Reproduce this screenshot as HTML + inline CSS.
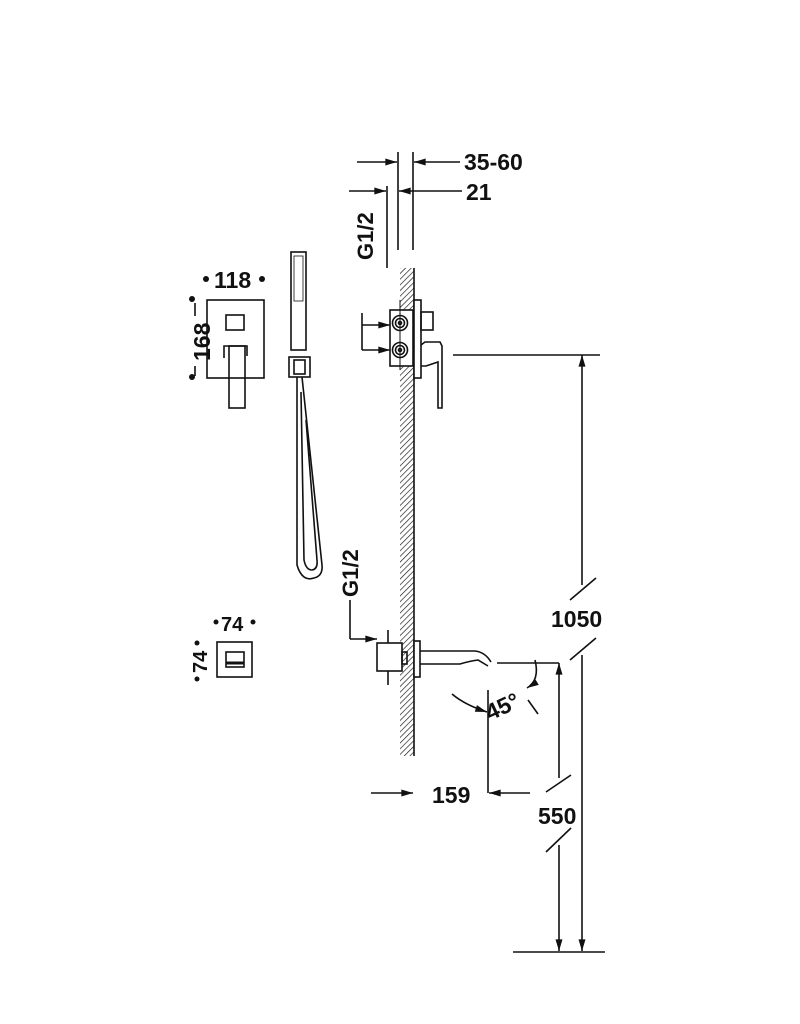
<!DOCTYPE html>
<html><head><meta charset="utf-8"><style>
html,body{margin:0;padding:0;background:#fff;width:800px;height:1024px;overflow:hidden}
svg text{font-family:"Liberation Sans",sans-serif;font-weight:bold;fill:#111}
</style></head><body>
<svg width="800" height="1024" viewBox="0 0 800 1024" xmlns="http://www.w3.org/2000/svg">
<defs>
<pattern id="h" width="4" height="4" patternUnits="userSpaceOnUse" patternTransform="rotate(45)">
<line x1="0" y1="0" x2="0" y2="4" stroke="#111" stroke-width="1.3"/>
</pattern>
<marker id="a" viewBox="0 0 10 6" refX="10" refY="3" markerWidth="16" markerHeight="7" markerUnits="userSpaceOnUse" orient="auto"><path d="M0,0L10,3L0,6z" fill="#111"/></marker>
</defs>
<g stroke="#111" stroke-width="1.6" fill="none">
<rect x="400" y="268" width="14" height="488" fill="url(#h)" stroke="none"/>
<line x1="414" y1="268" x2="414" y2="756"/>
<line x1="398" y1="152" x2="398" y2="250"/>
<line x1="413" y1="152" x2="413" y2="250"/>
<line x1="387" y1="186" x2="387" y2="268"/>
<line x1="357" y1="162" x2="397" y2="162" marker-end="url(#a)"/>
<line x1="460" y1="162" x2="414" y2="162" marker-end="url(#a)"/>
<line x1="349" y1="191" x2="386" y2="191" marker-end="url(#a)"/>
<line x1="462" y1="191" x2="399" y2="191" marker-end="url(#a)"/>
<line x1="362" y1="313" x2="362" y2="350"/>
<line x1="362" y1="325" x2="390" y2="325" marker-end="url(#a)"/>
<line x1="362" y1="350" x2="390" y2="350" marker-end="url(#a)"/>
<rect x="390" y="310" width="23" height="56" fill="#fff"/>
<circle cx="400" cy="323" r="7.5"/><circle cx="400" cy="323" r="4.5"/><circle cx="400" cy="323" r="1.5"/>
<circle cx="400" cy="350" r="7.5"/><circle cx="400" cy="350" r="4.5"/><circle cx="400" cy="350" r="1.5"/>
<line x1="400" y1="300" x2="400" y2="370" stroke-width="1"/>
<rect x="414" y="300" width="7" height="78" fill="#fff"/>
<rect x="421" y="312" width="12" height="18"/>
<path d="M421,345 L425,342 L440,342 L442,346 L442,408 L438,408 L438,362 L426,366 L421,366"/>
<line x1="453" y1="355" x2="600" y2="355"/>
<line x1="350" y1="600" x2="350" y2="639"/>
<line x1="350" y1="639" x2="377" y2="639" marker-end="url(#a)"/>
<line x1="388" y1="630" x2="388" y2="685"/>
<rect x="377" y="643" width="25" height="28" fill="#fff"/>
<rect x="402" y="652" width="5" height="12"/>
<rect x="414" y="641" width="6" height="36" fill="#fff"/>
<path d="M420,651 L475,651 Q485,652 491,662"/>
<path d="M420,664 L460,664 Q470,661 478,660 L488,666"/>
<line x1="497" y1="663" x2="559" y2="663"/>
<path d="M535,660 Q540,680 527,688" marker-end="url(#a)"/>
<path d="M452,694 Q465,705 487,712" marker-end="url(#a)"/>
<line x1="528" y1="700" x2="538" y2="714"/>
<line x1="488" y1="690" x2="488" y2="793"/>
<line x1="371" y1="793" x2="413" y2="793" marker-end="url(#a)"/>
<line x1="530" y1="793" x2="489" y2="793" marker-end="url(#a)"/>
<line x1="582" y1="655" x2="582" y2="951" marker-end="url(#a)"/>
<line x1="582" y1="585" x2="582" y2="355" marker-end="url(#a)"/>
<line x1="570" y1="600" x2="596" y2="578"/>
<line x1="570" y1="660" x2="596" y2="638"/>
<line x1="559" y1="778" x2="559" y2="663" marker-end="url(#a)"/>
<line x1="559" y1="845" x2="559" y2="951" marker-end="url(#a)"/>
<line x1="546" y1="792" x2="571" y2="775"/>
<line x1="546" y1="852" x2="571" y2="828"/>
<line x1="513" y1="952" x2="605" y2="952"/>
<rect x="207" y="300" width="57" height="78"/>
<rect x="226" y="315" width="18" height="15"/>
<path d="M224,358 L224,346 L247,346 L247,356"/>
<rect x="229" y="346" width="16" height="62"/>
<line x1="195" y1="303" x2="195" y2="316"/><line x1="195" y1="366" x2="195" y2="376"/>
<rect x="291" y="252" width="15" height="98"/>
<rect x="294" y="256" width="9" height="45" stroke-width="0.8"/>
<rect x="289" y="357" width="21" height="20"/>
<rect x="294" y="360" width="11" height="14"/>
<path d="M297,377 L297,565 Q302,582 314,578 Q323,576 322,565 L302,377"/>
<path d="M301,392 L304,560 Q306,570 312,570 Q318,569 317,560 L306,420"/>
<rect x="217" y="642" width="35" height="35"/>
<rect x="226" y="652" width="18" height="15"/>
<line x1="226" y1="663" x2="244" y2="663" stroke-width="3"/>
</g>
<g fill="#111">
<circle cx="206" cy="279" r="3"/><circle cx="262" cy="279" r="3"/>
<circle cx="192" cy="299" r="3"/><circle cx="192" cy="377" r="3"/>
<circle cx="216" cy="622" r="2.5"/><circle cx="253" cy="622" r="2.5"/>
<circle cx="197" cy="643" r="2.5"/><circle cx="197" cy="679" r="2.5"/>
</g>
<text x="214" y="288" font-size="23">118</text>
<text x="0" y="0" font-size="23" transform="translate(210,361) rotate(-90)">168</text>
<text x="221" y="631" font-size="20">74</text>
<text x="0" y="0" font-size="20" transform="translate(207,673) rotate(-90)">74</text>
<text x="464" y="170" font-size="23">35-60</text>
<text x="466" y="200" font-size="23">21</text>
<text x="0" y="0" font-size="22" transform="translate(373,260) rotate(-90)">G1/2</text>
<text x="0" y="0" font-size="22" transform="translate(358,597) rotate(-90)">G1/2</text>
<text x="551" y="627" font-size="23">1050</text>
<text x="0" y="0" font-size="23" transform="translate(490,721) rotate(-25)">45°</text>
<text x="432" y="803" font-size="23">159</text>
<text x="538" y="824" font-size="23">550</text>
</svg>
</body></html>
